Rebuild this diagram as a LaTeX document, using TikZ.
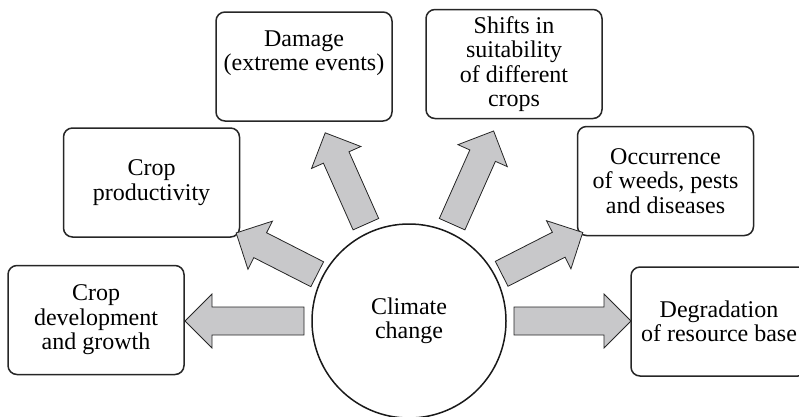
\documentclass[tikz,border=0pt]{standalone}
\usepackage{fontspec}
\setmainfont{Liberation Serif}
\definecolor{arrowgray}{RGB}{200,200,202}
\begin{document}
\begin{tikzpicture}[x=1pt,y=-1pt,
  box/.style={draw=black!85, line width=1.5pt, rounded corners=9pt,
    minimum width=176pt, minimum height=109pt, align=center, inner sep=0pt,
    font=\fontsize{24}{24.5}\selectfont},
  hub/.style={draw=black!90, line width=1.5pt, circle, minimum size=194pt,
    inner sep=0pt, align=center, font=\fontsize{24}{24.5}\selectfont},
  blockarrow/.style={draw=black!85, line width=0.8pt, fill=arrowgray, line join=miter}]
\useasboundingbox (0,0) rectangle (799,416);
\newcommand\clarrow[3]{%
  \draw[blockarrow, shift={(cc.center)}, rotate=#1]
    (#2pt,-14pt) -- ({#3pt-27pt},-14pt) -- ({#3pt-27pt},-27pt) -- (#3pt,0pt)
    -- ({#3pt-27pt},27pt) -- ({#3pt-27pt},14pt) -- (#2pt,14pt) -- cycle;}
\node[hub] (cc) at (409,321) {Climate\\change};
\node[box] (dev) at (96,320) {Crop\\development\\and growth};
\node[box] (prod) at (151.5,182.5) {Crop\\productivity};
\node[box] (dmg) at (304,66.5) {Damage\\(extreme events)\\[0pt]\strut};
\node[box] (shift) at (514,64) {Shifts in\\suitability\\of different\\crops};
\node[box] (occ) at (665.5,181) {Occurrence\\of weeds, pests\\and diseases};
\node[box] (deg) at (719,321.5) {Degradation\\of resource base};
\clarrow{180}{105}{224}
\clarrow{153}{103}{194}
\clarrow{114}{106}{206}
\clarrow{66}{106}{208}
\clarrow{27}{104}{195}
\clarrow{0}{105}{222}
\end{tikzpicture}
\end{document}
